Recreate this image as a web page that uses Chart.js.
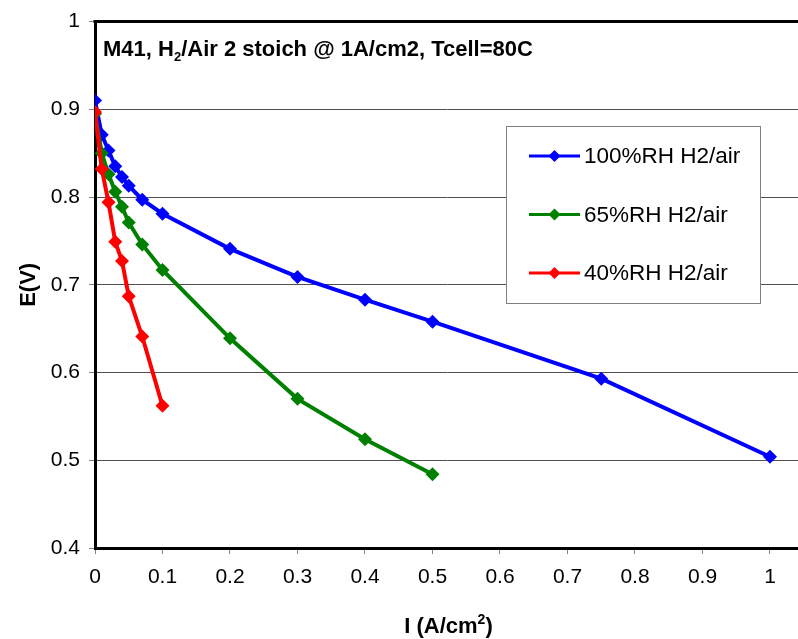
<!DOCTYPE html>
<html>
<head>
<meta charset="utf-8">
<script src="https://cdn.jsdelivr.net/npm/chart.js@4"></script>
<style>
  html, body { margin: 0; padding: 0; background: #fff; }
  #wrap { width: 798px; height: 639px; position: relative; overflow: hidden; }
</style>
</head>
<body>
<div id="wrap"><canvas id="c" width="798" height="639"></canvas></div>
<script>
// Polarization curves: cell voltage vs current density at three humidity levels
const seriesLabels = ['100%RH H2/air', '65%RH H2/air', '40%RH H2/air'];

const current100 = [0, 0.01, 0.02, 0.03, 0.04, 0.05, 0.07, 0.1, 0.2, 0.3, 0.4, 0.5, 0.75, 1.0];
const voltage100 = [0.910, 0.871, 0.853, 0.835, 0.823, 0.813, 0.797, 0.781, 0.741, 0.709, 0.683, 0.658, 0.593, 0.504];

const current65 = [0, 0.01, 0.02, 0.03, 0.04, 0.05, 0.07, 0.1, 0.2, 0.3, 0.4, 0.5];
const voltage65 = [0.895, 0.850, 0.826, 0.806, 0.789, 0.771, 0.746, 0.717, 0.639, 0.570, 0.524, 0.484];

const current40 = [0, 0.01, 0.02, 0.03, 0.04, 0.05, 0.07, 0.1];
const voltage40 = [0.897, 0.832, 0.794, 0.749, 0.727, 0.687, 0.641, 0.562];

const xTickValues = [0, 0.1, 0.2, 0.3, 0.4, 0.5, 0.6, 0.7, 0.8, 0.9, 1];
const yTickValues = [0.4, 0.5, 0.6, 0.7, 0.8, 0.9, 1];

const X_MAX = 1.0415;   // axis runs a little past the last labelled tick
const FONT = '"Liberation Sans", Arial, sans-serif';

function toPoints(xs, ys) {
  return xs.map((x, i) => ({ x: x, y: ys[i] }));
}

function series(label, xs, ys, color, order) {
  return {
    label: label,
    data: toPoints(xs, ys),
    showLine: true,
    borderColor: color,
    backgroundColor: color,
    borderWidth: 4,
    pointStyle: 'rectRot',
    pointRadius: 7,
    pointHoverRadius: 7,
    pointBorderWidth: 0,
    order: order
  };
}

// Let the plot area run to the canvas edge on the right
const fullWidthArea = {
  id: 'fullWidthArea',
  afterLayout(chart) {
    const a = chart.chartArea;
    a.right = chart.width;
    a.width = a.right - a.left;
    const xs = chart.scales.x;
    xs.right = chart.width;
    xs.width = xs.right - xs.left;
    xs.configure();
  }
};

// Title, axis titles and boxed legend drawn on the canvas
const decorations = {
  id: 'decorations',
  afterDraw(chart) {
    const ctx = chart.ctx;
    const a = chart.chartArea;
    ctx.save();

    // top frame line
    ctx.strokeStyle = '#000';
    ctx.lineWidth = 3;
    ctx.beginPath();
    ctx.moveTo(a.left - 1.5, a.top);
    ctx.lineTo(chart.width, a.top);
    ctx.stroke();

    // chart title with subscript
    ctx.fillStyle = '#000';
    ctx.textBaseline = 'alphabetic';
    ctx.textAlign = 'left';
    let x = a.left + 8;
    const y = a.top + 34;
    const big = 'bold 22px ' + FONT;
    const small = 'bold 13px ' + FONT;
    const parts = [
      ['M41, H', big, 0],
      ['2', small, 5],
      ['/Air 2 stoich @ 1A/cm2, Tcell=80C', big, 0]
    ];
    parts.forEach(p => {
      ctx.font = p[1];
      ctx.fillText(p[0], x, y + p[2]);
      x += ctx.measureText(p[0]).width;
    });

    // y axis title
    ctx.save();
    ctx.translate(29, (a.top + a.bottom) / 2);
    ctx.rotate(-Math.PI / 2);
    ctx.font = 'bold 22px ' + FONT;
    ctx.textAlign = 'center';
    ctx.textBaseline = 'middle';
    ctx.fillText('E(V)', 0, 0);
    ctx.restore();

    // x axis title with superscript
    const xs = chart.scales.x;
    const cx = (xs.getPixelForValue(0) + xs.getPixelForValue(1)) / 2 + 16;
    const bigX = 'bold 22px ' + FONT;
    const supX = 'bold 14px ' + FONT;
    const xParts = [['I (A/cm', bigX, 0], ['2', supX, -9], [')', bigX, 0]];
    let total = 0;
    xParts.forEach(p => { ctx.font = p[1]; total += ctx.measureText(p[0]).width; });
    let tx = cx - total / 2;
    const ty = 633;
    xParts.forEach(p => {
      ctx.font = p[1];
      ctx.fillText(p[0], tx, ty + p[2]);
      tx += ctx.measureText(p[0]).width;
    });

    // legend box
    const lx = 506, ly = 126, lw = 254, lh = 177;
    ctx.fillStyle = '#fff';
    ctx.fillRect(lx, ly, lw, lh);
    ctx.strokeStyle = '#808080';
    ctx.lineWidth = 1;
    ctx.strokeRect(lx + 0.5, ly + 0.5, lw, lh);

    ctx.font = '22.5px ' + FONT;
    ctx.textBaseline = 'middle';
    chart.data.datasets.forEach((ds, i) => {
      const rowY = ly + 30 + i * 58.5;
      ctx.strokeStyle = ds.borderColor;
      ctx.lineWidth = 3;
      ctx.beginPath();
      ctx.moveTo(lx + 23, rowY);
      ctx.lineTo(lx + 74, rowY);
      ctx.stroke();
      ctx.fillStyle = ds.borderColor;
      ctx.beginPath();
      const cxm = lx + 48.5, r = 6;
      ctx.moveTo(cxm, rowY - r);
      ctx.lineTo(cxm + r, rowY);
      ctx.lineTo(cxm, rowY + r);
      ctx.lineTo(cxm - r, rowY);
      ctx.closePath();
      ctx.fill();
      ctx.fillStyle = '#000';
      ctx.fillText(ds.label, lx + 78, rowY + 1);
    });

    ctx.restore();
  }
};

new Chart(document.getElementById('c'), {
  type: 'scatter',
  data: {
    datasets: [
      series(seriesLabels[0], current100, voltage100, '#0000ff', 2),
      series(seriesLabels[1], current65, voltage65, '#008000', 1),
      series(seriesLabels[2], current40, voltage40, '#ff0000', 0)
    ]
  },
  options: {
    responsive: false,
    animation: false,
    devicePixelRatio: 1,
    layout: { padding: { left: 0, right: 0, top: 18, bottom: 0 } },
    plugins: {
      legend: { display: false },
      tooltip: { enabled: false },
      title: { display: false }
    },
    scales: {
      x: {
        type: 'linear',
        min: 0,
        max: X_MAX,
        afterBuildTicks(scale) { scale.ticks = xTickValues.map(v => ({ value: v })); },
        afterFit(scale) { scale.height = 91; },
        ticks: {
          color: '#000',
          font: { family: FONT, size: 21 },
          padding: 11,
          maxRotation: 0,
          callback: v => String(Math.round(v * 10) / 10)
        },
        grid: {
          drawOnChartArea: false,
          drawTicks: true,
          tickLength: 6,
          tickColor: '#808080',
          tickWidth: 1
        },
        border: { color: '#000', width: 3 },
        title: { display: false }
      },
      y: {
        type: 'linear',
        min: 0.4,
        max: 1,
        afterBuildTicks(scale) { scale.ticks = yTickValues.map(v => ({ value: v })); },
        afterFit(scale) { scale.width = 95; },
        ticks: {
          color: '#000',
          font: { family: FONT, size: 21 },
          padding: 9,
          callback: v => String(Math.round(v * 10) / 10)
        },
        grid: {
          drawOnChartArea: true,
          color: '#505050',
          lineWidth: 1,
          drawTicks: true,
          tickLength: 6,
          tickColor: '#808080',
          tickWidth: 1
        },
        border: { color: '#000', width: 3 },
        title: { display: false }
      }
    }
  },
  plugins: [fullWidthArea, decorations]
});
</script>
</body>
</html>
